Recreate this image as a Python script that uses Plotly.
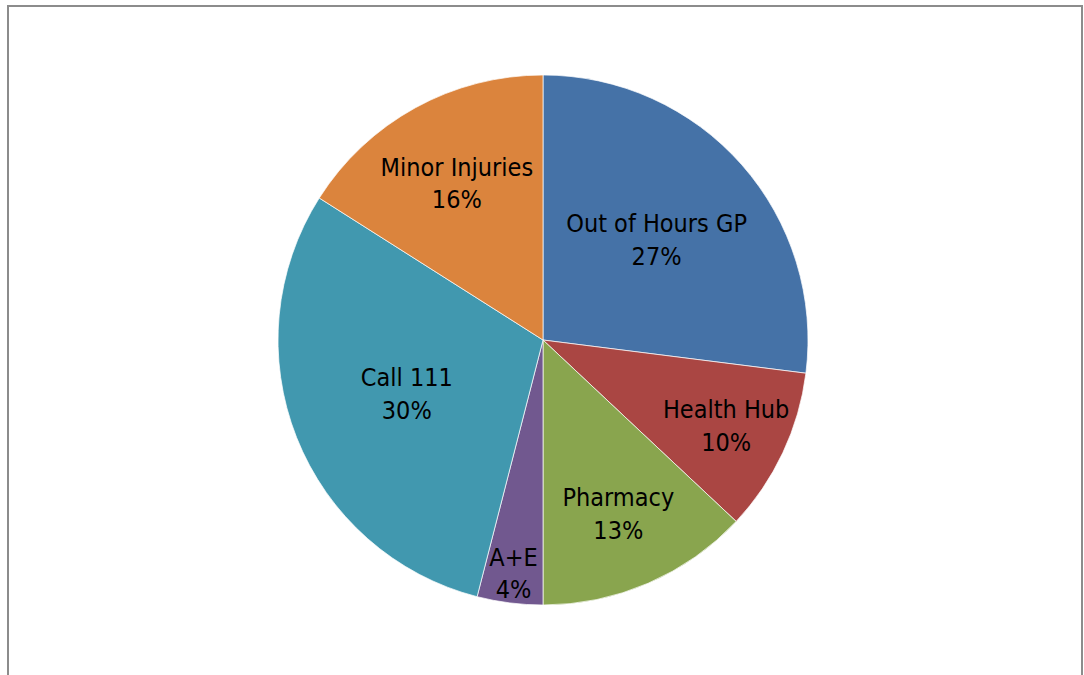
import plotly.graph_objects as go

labels = ["Out of Hours GP", "Health Hub", "Pharmacy", "A+E", "Call 111", "Minor Injuries"]
values = [27, 10, 13, 4, 30, 16]
colors = ["#4572A7", "#AA4643", "#89A54E", "#71588F", "#4198AF", "#DB843D"]

fig = go.Figure(go.Pie(
    labels=labels,
    values=values,
    sort=False,
    direction="clockwise",
    rotation=0,
    marker=dict(colors=colors, line=dict(color="white", width=0.7)),
    textinfo="label+percent",
    textposition="inside",
    insidetextorientation="horizontal",
    textfont=dict(family="DejaVu Sans Condensed, Noto Sans", size=25, color="black"),
    showlegend=False,
    hoverinfo="label+percent",
))

W, H = 1084, 675
mt, mb = 75, 70
ph = H - mt - mb
fig.update_layout(
    width=W, height=H,
    margin=dict(l=2, r=0, t=mt, b=mb),
    paper_bgcolor="white",
    plot_bgcolor="white",
    uniformtext=dict(minsize=25, mode="show"),
    shapes=[dict(
        type="rect", xref="paper", yref="paper",
        x0=(8 - 2) / (W - 2), x1=(1082 - 2) / (W - 2),
        y0=(H - mb - 690) / ph, y1=(H - mb - 6) / ph,
        line=dict(color="#8c8c8c", width=2),
        fillcolor="rgba(0,0,0,0)",
        layer="below",
    )],
)

fig.write_html("out.html", config={"displayModeBar": False},
               post_script="document.body.style.margin='0px';")
